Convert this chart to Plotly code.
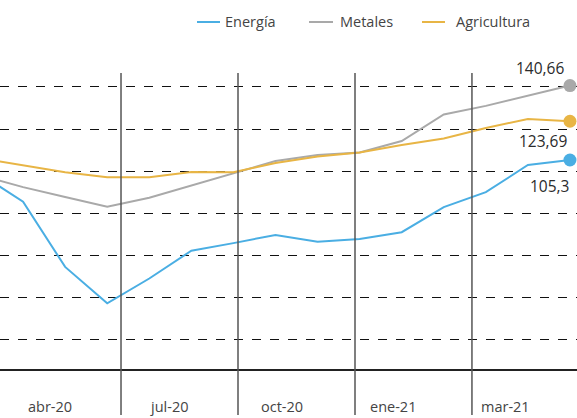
import plotly.graph_objects as go

# ---- data ----
periodo = list(range(15))
energia = [98.4, 85.5, 54.5, 37.2, 49.0, 62.2, 65.8, 69.7, 66.5, 67.8, 71.0, 82.9, 90.0, 102.9, 105.3]
metales = [98.0, 92.4, 87.7, 83.1, 87.4, 93.2, 99.0, 104.8, 107.7, 108.9, 114.3, 126.9, 131.0, 135.7, 140.66]
agricultura = [106.0, 102.7, 99.5, 97.1, 97.1, 99.6, 99.5, 103.9, 107.0, 108.9, 112.4, 115.5, 120.5, 124.8, 123.69]
series_names = ["Energía", "Metales", "Agricultura"]
etiquetas_x = ["abr-20", "jul-20", "oct-20", "ene-21", "mar-21"]
pos_etiquetas = [1.64, 4.469, 7.143, 9.793, 12.479]
separadores = [3.328, 6.109, 8.890, 11.67]
grid_vals = [20, 40, 60, 80, 100, 120, 140]

colors = ["#4AAEE3", "#A9A9A9", "#E8B545"]
W, H = 577, 418
PLOT_H = 369

def fmt(v):
    s = ("%.2f" % v).rstrip("0").rstrip(".")
    return s.replace(".", ",")

fig = go.Figure()
for name, vals, c in zip(series_names, [energia, metales, agricultura], colors):
    fig.add_trace(go.Scatter(x=periodo, y=vals, mode="lines", name=name,
                             line=dict(color=c, width=2), showlegend=False))
    fig.add_trace(go.Scatter(x=[periodo[-1]], y=[vals[-1]], mode="markers",
                             marker=dict(color=c, size=13), showlegend=False,
                             cliponaxis=False))

annotations = []
shapes = []
# vertical separators
for s in separadores:
    shapes.append(dict(type="line", xref="x", yref="paper", x0=s, x1=s,
                       y0=(PLOT_H - 415) / PLOT_H, y1=(PLOT_H - 73) / PLOT_H,
                       line=dict(color="#555555", width=1.5), layer="above"))

# x labels
for lab, p in zip(etiquetas_x, pos_etiquetas):
    annotations.append(dict(x=p, y=(PLOT_H - 406.5) / PLOT_H, xref="x", yref="paper",
                            text=lab, showarrow=False, xanchor="center", yanchor="middle",
                            font=dict(family="Open Sans", size=14.5, color="#444444")))

# end value labels
offsets = {"Energía": (-20, -26), "Metales": (-30, 18), "Agricultura": (-27, -20)}
for name, vals in zip(series_names, [energia, metales, agricultura]):
    dx, dy = offsets[name]
    annotations.append(dict(x=periodo[-1], y=vals[-1], xref="x", yref="y",
                            text=fmt(vals[-1]), showarrow=False, xshift=dx, yshift=dy,
                            font=dict(family="Open Sans", size=15.5, color="#2b2b2b")))

# manual legend
leg_items = [(197, 220, 225), (309, 333, 340), (422, 445, 456)]
ly = (PLOT_H - 22) / PLOT_H
for (x0, x1, tx), name, c in zip(leg_items, series_names, colors):
    shapes.append(dict(type="line", xref="paper", yref="paper", x0=x0 / W, x1=x1 / W,
                       y0=ly, y1=ly, line=dict(color=c, width=2)))
    annotations.append(dict(x=tx / W, y=ly, xref="paper", yref="paper", text=name,
                            showarrow=False, xanchor="left", yanchor="middle", xshift=-2,
                            font=dict(family="Open Sans", size=14.5, color="#444444")))

fig.update_layout(
    width=W, height=H,
    margin=dict(l=0, r=0, t=0, b=H - PLOT_H),
    paper_bgcolor="white", plot_bgcolor="white",
    shapes=shapes, annotations=annotations,
    xaxis=dict(range=[0.4516, 14.167], showgrid=False, zeroline=False,
               showticklabels=False, showline=True, linecolor="#222222", linewidth=1.5,
               ticks=""),
    yaxis=dict(range=[6.0, 181.3], tickvals=grid_vals, showticklabels=False,
               showgrid=True, gridcolor="#111111", griddash="dash", gridwidth=1,
               zeroline=False, showline=False, ticks=""),
)

fig.write_html("out.html", config={"displayModeBar": False, "staticPlot": True},
               post_script="document.body.style.margin='0';document.body.style.overflow='hidden';")
